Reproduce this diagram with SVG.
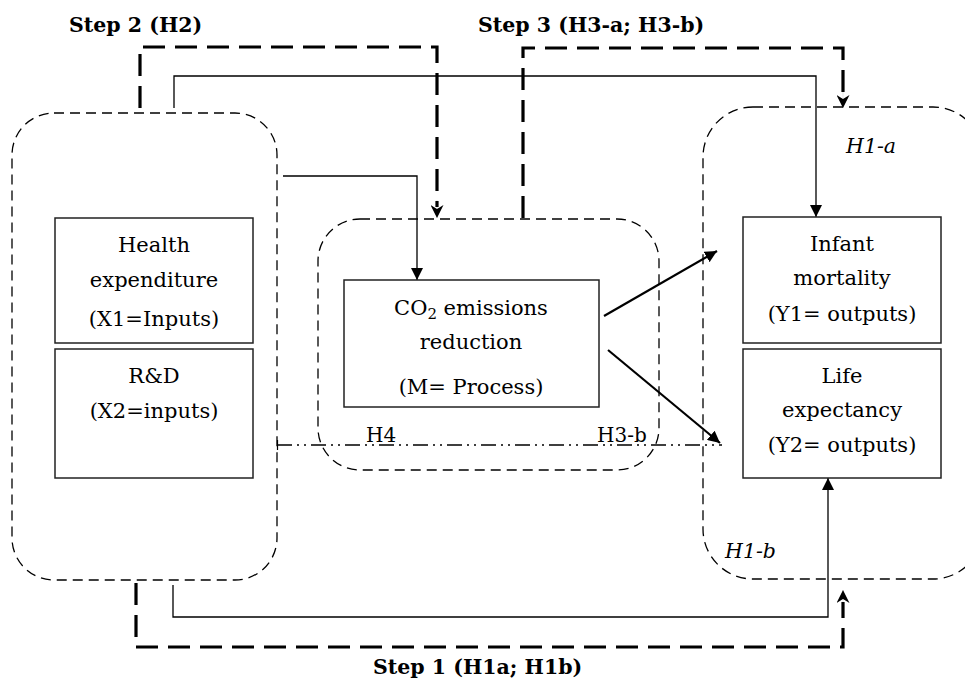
<svg xmlns="http://www.w3.org/2000/svg" width="965" height="680" viewBox="0 0 965 680">
<style>
.grp{fill:none;stroke:#000;stroke-width:1.3;stroke-dasharray:10 6}
.box{fill:#fff;stroke:#222;stroke-width:1.5}
.t{font-family:"DejaVu Serif","Liberation Serif",serif;font-size:21px;fill:#000;text-anchor:middle}
.it{font-family:"DejaVu Serif","Liberation Serif",serif;font-size:20.5px;font-style:italic;fill:#000}
.lb{font-family:"DejaVu Serif","Liberation Serif",serif;font-size:20px;fill:#000}
.hd{font-family:"DejaVu Serif","Liberation Serif",serif;font-size:20.5px;font-weight:bold;fill:#000}
.thin{fill:none;stroke:#000;stroke-width:1.3}
.diag{fill:none;stroke:#000;stroke-width:2.2}
.thick{fill:none;stroke:#000;stroke-width:3.2;stroke-dasharray:22 10}
.dd{fill:none;stroke:#000;stroke-width:1.4;stroke-dasharray:15 5 2 5 2 5}
</style>
<defs>
<marker id="ah" viewBox="0 0 10 10" refX="10" refY="5" markerWidth="12" markerHeight="12" markerUnits="userSpaceOnUse" orient="auto">
<path d="M0,0 L10,5 L0,10 z" fill="#000"/>
</marker>
<marker id="sh" viewBox="0 0 10 10" refX="10" refY="5" markerWidth="13" markerHeight="13" markerUnits="userSpaceOnUse" orient="auto">
<path d="M0,0 L10,5 L0,10 L3,5 z" fill="#000"/>
</marker>
</defs>

<g id="group-inputs"><rect class="grp" x="12" y="113" width="265" height="467" rx="42" ry="42"/></g>
<g id="group-process"><rect class="grp" x="318" y="219" width="341" height="251" rx="42" ry="42"/></g>
<g id="group-outputs"><rect class="grp" x="703" y="107" width="280" height="472" rx="50" ry="50"/>
<text class="it" x="846" y="153">H1-a</text>
<text class="it" x="725" y="558">H1-b</text>
</g>

<g id="connectors">
<path class="thick" d="M140,108 V47 H437 V207"/>
<line x1="437" y1="200" x2="437" y2="218" stroke="#000" stroke-width="0.1" marker-end="url(#sh)"/>
<path class="thick" d="M523,218 V48 H843 V96"/>
<line x1="843" y1="90" x2="843" y2="108" stroke="#000" stroke-width="0.1" marker-end="url(#sh)"/>
<path class="thick" d="M136,583 V647 H843 V602"/>
<line x1="843" y1="608" x2="843" y2="590" stroke="#000" stroke-width="0.1" marker-end="url(#sh)"/>
<path class="thin" d="M174,108 V76 H816 V217" marker-end="url(#ah)"/>
<path class="thin" d="M283,176 H417 V280" marker-end="url(#ah)"/>
<path class="thin" d="M173,585 V617 H828 V478" marker-end="url(#ah)"/>
<line class="diag" x1="604" y1="316" x2="717" y2="251" marker-end="url(#ah)"/>
<line class="diag" x1="608" y1="350" x2="720" y2="443" marker-end="url(#ah)"/>
<line class="dd" x1="277" y1="445" x2="722" y2="445"/>
<line x1="277.5" y1="440" x2="277.5" y2="450" stroke="#000" stroke-width="1.2"/>
</g>

<g id="health">
<rect class="box" x="55" y="218" width="198" height="125"/>
<text class="t" x="154" y="252">Health</text>
<text class="t" x="154" y="287">expenditure</text>
<text class="t" x="154" y="326">(X1=Inputs)</text>
</g>
<g id="rd">
<rect class="box" x="55" y="349" width="198" height="129"/>
<text class="t" x="154" y="383">R&amp;D</text>
<text class="t" x="154" y="418">(X2=inputs)</text>
</g>
<g id="co2">
<rect class="box" x="344" y="280" width="255" height="127"/>
<text class="t" x="471" y="315">CO<tspan font-size="15" dy="4">2</tspan><tspan dy="-4"> emissions</tspan></text>
<text class="t" x="471" y="349">reduction</text>
<text class="t" x="471" y="394">(M= Process)</text>
</g>
<g id="infant">
<rect class="box" x="743" y="217" width="198" height="126"/>
<text class="t" x="842" y="251">Infant</text>
<text class="t" x="842" y="285">mortality</text>
<text class="t" x="842" y="321">(Y1= outputs)</text>
</g>
<g id="life">
<rect class="box" x="743" y="349" width="198" height="129"/>
<text class="t" x="842" y="383">Life</text>
<text class="t" x="842" y="417">expectancy</text>
<text class="t" x="842" y="452">(Y2= outputs)</text>
</g>

<g id="labels">
<text class="lb" x="366" y="442">H4</text>
<text class="lb" x="597" y="442">H3-b</text>
<text class="hd" x="69" y="32">Step 2 (H2)</text>
<text class="hd" x="478" y="32">Step 3 (H3-a; H3-b)</text>
<text class="hd" x="373" y="674">Step 1 (H1a; H1b)</text>
</g>
</svg>
